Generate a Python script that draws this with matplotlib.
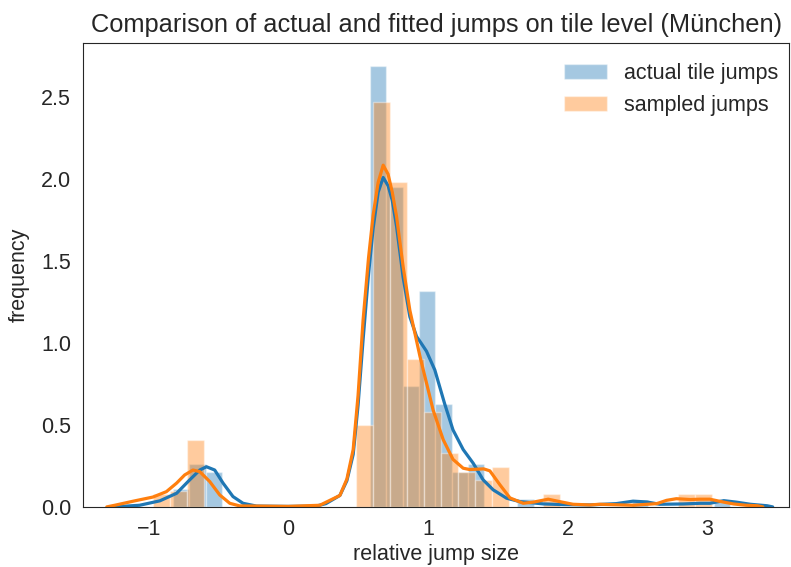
import numpy as np
import matplotlib
matplotlib.use("Agg")
import matplotlib.pyplot as plt
import seaborn as sns

# histogram bins
actual_start = -0.825
actual_width = 0.1174
actual_heights = [0.11, 0.26, 0.21,
                  0, 0, 0, 0, 0, 0, 0, 0, 0,
                  2.69, 1.95, 0.74, 1.32, 0.63, 0.21, 0.26, 0, 0, 0.05,
                  0, 0, 0, 0, 0, 0, 0.045, 0, 0, 0, 0, 0.04]

sampled_start = -0.970
sampled_width = 0.1214
sampled_heights = [0.08, 0.10, 0.41,
                   0, 0, 0, 0, 0, 0, 0, 0, 0,
                   0.50, 2.47, 1.98, 0.90, 0.58, 0.33, 0.21, 0.165, 0.245,
                   0, 0, 0.08, 0, 0, 0, 0, 0, 0, 0, 0.08, 0.08]

# kde curves
actual_kde_x = [-1.25, -1.065, -0.92, -0.80, -0.706, -0.634, -0.586, -0.527, -0.467,
                -0.396, -0.324, -0.228, 0.0, 0.2, 0.27, 0.37, 0.42, 0.465, 0.50, 0.536,
                0.575, 0.608, 0.644, 0.68, 0.715, 0.745, 0.776, 0.823, 0.871, 0.919,
                0.955, 0.99, 1.05, 1.12, 1.18, 1.253, 1.325, 1.396, 1.468, 1.564, 1.66,
                1.71, 1.83, 1.97, 2.16, 2.35, 2.47, 2.57, 2.66, 2.83, 2.95, 3.02, 3.12,
                3.21, 3.31, 3.43, 3.47]
actual_kde_y = [0.0, 0.01, 0.037, 0.083, 0.165, 0.225, 0.245, 0.225, 0.145,
                0.063, 0.022, 0.005, 0.003, 0.005, 0.02, 0.07, 0.16, 0.32, 0.62, 1.02,
                1.42, 1.70, 1.92, 2.01, 1.96, 1.87, 1.71, 1.40, 1.16, 1.04,
                0.995, 0.95, 0.835, 0.63, 0.47, 0.35, 0.266, 0.165, 0.104, 0.053, 0.032,
                0.028, 0.018, 0.014, 0.012, 0.02, 0.035, 0.03, 0.016, 0.018, 0.022, 0.022, 0.038,
                0.029, 0.016, 0.007, 0.0]

sampled_kde_x = [-1.30, -1.243, -1.11, -0.97, -0.873, -0.80, -0.742, -0.682, -0.634,
                 -0.563, -0.491, -0.419, -0.348, 0.0, 0.226, 0.37, 0.42, 0.465, 0.50,
                 0.536, 0.575, 0.608, 0.644, 0.68, 0.715, 0.745, 0.776, 0.823, 0.871,
                 0.943, 1.038, 1.11, 1.18, 1.253, 1.30, 1.35, 1.40, 1.444, 1.516, 1.588,
                 1.683, 1.755, 1.862, 1.946, 2.04, 2.16, 2.23, 2.47, 2.64, 2.71, 2.78,
                 2.88, 2.95, 3.02, 3.12, 3.19, 3.28, 3.36, 3.40]
sampled_kde_y = [0.0, 0.01, 0.035, 0.06, 0.093, 0.145, 0.195, 0.225, 0.215,
                 0.155, 0.073, 0.022, 0.006, 0.003, 0.01, 0.07, 0.17, 0.35, 0.68,
                 1.14, 1.52, 1.78, 1.98, 2.085, 2.03, 1.92, 1.77, 1.465, 1.20,
                 0.92, 0.59, 0.41, 0.29, 0.236, 0.228, 0.23, 0.232, 0.22, 0.135, 0.055,
                 0.022, 0.029, 0.047, 0.032, 0.016, 0.012, 0.016, 0.01, 0.02, 0.04, 0.05,
                 0.045, 0.047, 0.047, 0.029, 0.018, 0.01, 0.007, 0.0]

sns.set_style("white")
plt.rcParams['font.family'] = ['Liberation Sans', 'DejaVu Sans']

fig = plt.figure(figsize=(7.91, 5.67), dpi=100)
ax = fig.add_axes([0.105, 0.106, 0.893, 0.818])

blue = '#1f77b4'
orange = '#ff7f0e'

a_left = actual_start + actual_width * np.arange(len(actual_heights))
s_left = sampled_start + sampled_width * np.arange(len(sampled_heights))

ax.bar(a_left, actual_heights, width=actual_width, align='edge', color=blue,
       alpha=0.4, edgecolor='white', linewidth=1, label='actual tile jumps')
ax.plot(actual_kde_x, actual_kde_y, color=blue, lw=2.3)
ax.bar(s_left, sampled_heights, width=sampled_width, align='edge', color=orange,
       alpha=0.4, edgecolor='white', linewidth=1, label='sampled jumps')
ax.plot(sampled_kde_x, sampled_kde_y, color=orange, lw=2.3)

ax.set_xlim(-1.47, 3.59)
ax.set_ylim(0, 2.83)
ax.set_xticks([-1, 0, 1, 2, 3])
ax.set_yticks([0.0, 0.5, 1.0, 1.5, 2.0, 2.5])
ax.tick_params(labelsize=15.5, colors='.15', pad=5)
ax.set_xlabel('relative jump size', fontsize=15.5, color='.15', labelpad=3)
ax.set_ylabel('frequency', fontsize=15.5, color='.15', labelpad=8)
ax.set_title('Comparison of actual and fitted jumps on tile level (München)',
             fontsize=18.3, color='.15', pad=8)
ax.legend(loc='upper right', fontsize=15.5, frameon=False,
          bbox_to_anchor=(1.003, 0.985), borderaxespad=0.2)

fig.savefig('out.png', dpi=100)
